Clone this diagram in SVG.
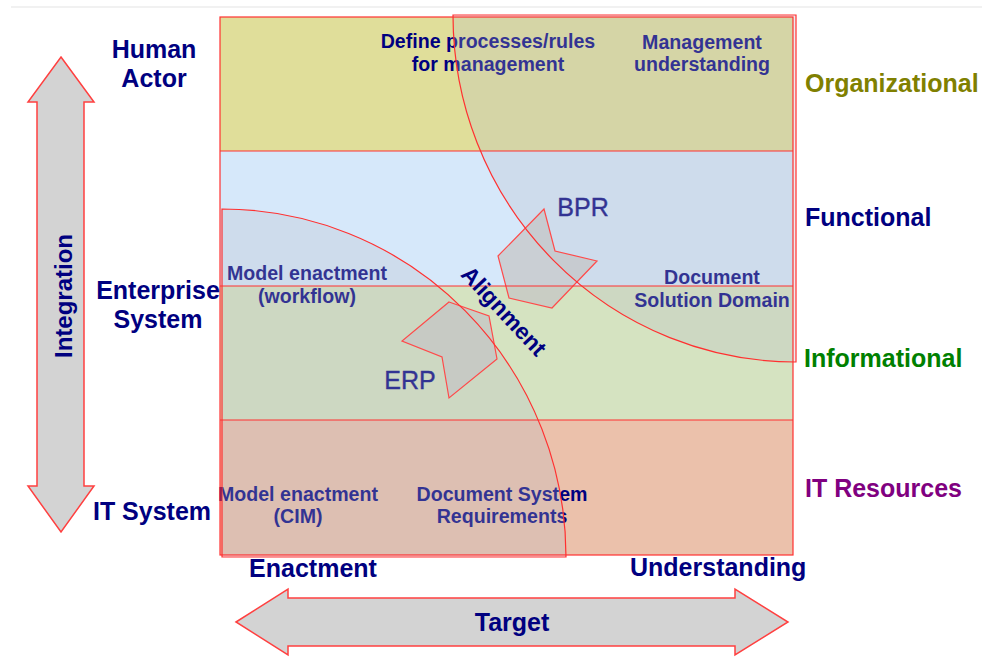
<svg xmlns="http://www.w3.org/2000/svg" width="982" height="657" viewBox="0 0 982 657">
<style>
.t{font-family:"Liberation Sans",Arial,sans-serif;font-weight:bold;}
.lab{font-size:25px;fill:#000080;}
.in{font-size:19.6px;fill:#000080;text-anchor:middle;}
.reg{font-family:"Liberation Sans",Arial,sans-serif;font-size:25px;fill:#000080;text-anchor:middle;stroke:#000080;stroke-width:0.4;}
.red{fill:none;stroke:#ff3030;stroke-width:1.2;}
.ov{fill:rgb(185,190,200);fill-opacity:0.27;}
.chev{fill:rgb(197,197,197);fill-opacity:0.72;stroke:#ff4a4a;stroke-width:1.2;}
.axis{fill:#d3d3d3;stroke:#ff4040;stroke-width:1.5;}
</style>
<rect width="982" height="657" fill="#ffffff"/>
<line x1="11" y1="7" x2="982" y2="7" stroke="#e3e3e3" stroke-width="1.2"/>

<g id="band-organizational"><rect x="220" y="17" width="573" height="134" fill="#e0de9a"/></g>
<g id="band-functional"><rect x="220" y="151" width="573" height="135" fill="#d6e8fa"/></g>
<g id="band-informational"><rect x="220" y="286" width="573" height="134" fill="#d5e3c1"/></g>
<g id="band-itresources"><rect x="220" y="420" width="573" height="135" fill="#ebc1ab"/></g>

<g id="inner-labels" class="t">
<text class="in" x="488" y="48">Define processes/rules</text>
<text class="in" x="488" y="71">for management</text>
<text class="in" x="702" y="49">Management</text>
<text class="in" x="702" y="71">understanding</text>
<text class="in" x="307" y="280">Model enactment</text>
<text class="in" x="307" y="303">(workflow)</text>
<text class="in" x="712" y="284">Document</text>
<text class="in" x="712" y="307">Solution Domain</text>
<text class="in" x="298" y="501">Model enactment</text>
<text class="in" x="298" y="523">(CIM)</text>
<text class="in" x="502" y="501">Document System</text>
<text class="in" x="502" y="523">Requirements</text>
</g>
<g id="chevron-labels">
<text class="reg" x="583" y="216">BPR</text>
<text class="reg" x="410" y="389">ERP</text>
</g>

<g id="overlay-understanding"><path class="ov" d="M796,15 L453,15 A343,347 0 0 0 796,362 Z"/></g>
<g id="overlay-enactment"><path class="ov" d="M222,209 A344,348 0 0 1 566,557 L222,557 Z"/></g>

<g id="arrow-bpr"><polygon class="chev" points="544,209 555,251 597,261 552,308 509,298 498,256"/></g>
<g id="arrow-erp"><polygon class="chev" points="449,302 489,316 497,359 449,398 442,357 402,341"/></g>

<g id="outlines">
<rect class="red" x="220" y="17" width="573" height="538"/>
<line class="red" x1="220" y1="151" x2="793" y2="151"/>
<line class="red" x1="220" y1="286" x2="793" y2="286"/>
<line class="red" x1="220" y1="420" x2="793" y2="420"/>
<path class="red" d="M796,15 L453,15 A343,347 0 0 0 796,362 Z"/>
<path class="red" d="M222,209 A344,348 0 0 1 566,557 L222,557 Z"/>
</g>

<g id="alignment" class="t">
<text transform="translate(504,311) rotate(47)" x="0" y="8" font-size="23" fill="#000080" text-anchor="middle">Alignment</text>
</g>

<g id="connectors">
<g id="axis-integration">
<polygon class="axis" points="61,57 94,102 84,102 84,486 94,486 61,532 28,486 37,486 37,102 28,102"/>
<text class="t" transform="translate(72,296) rotate(-90)" x="0" y="0" font-size="24" fill="#000080" text-anchor="middle">Integration</text>
</g>
<g id="axis-target">
<polygon class="axis" points="236,622 288,589 288,598 735,598 735,589 788,622 735,655 735,646 288,646 288,655"/>
<text class="t lab" x="512" y="631" text-anchor="middle">Target</text>
</g>
</g>

<g id="side-labels" class="t">
<text class="lab" x="154" y="58" text-anchor="middle">Human</text>
<text class="lab" x="154" y="87" text-anchor="middle">Actor</text>
<text class="lab" x="158" y="299" text-anchor="middle">Enterprise</text>
<text class="lab" x="158" y="328" text-anchor="middle">System</text>
<text class="lab" x="152" y="520" text-anchor="middle">IT System</text>
<text class="lab" x="805" y="92" style="fill:#808000">Organizational</text>
<text class="lab" x="805" y="226" style="fill:#000080">Functional</text>
<text class="lab" x="804" y="367" style="fill:#008000">Informational</text>
<text class="lab" x="805" y="497" style="fill:#800080">IT Resources</text>
<text class="lab" x="313" y="577" text-anchor="middle">Enactment</text>
<text class="lab" x="630" y="576">Understanding</text>
</g>
</svg>
